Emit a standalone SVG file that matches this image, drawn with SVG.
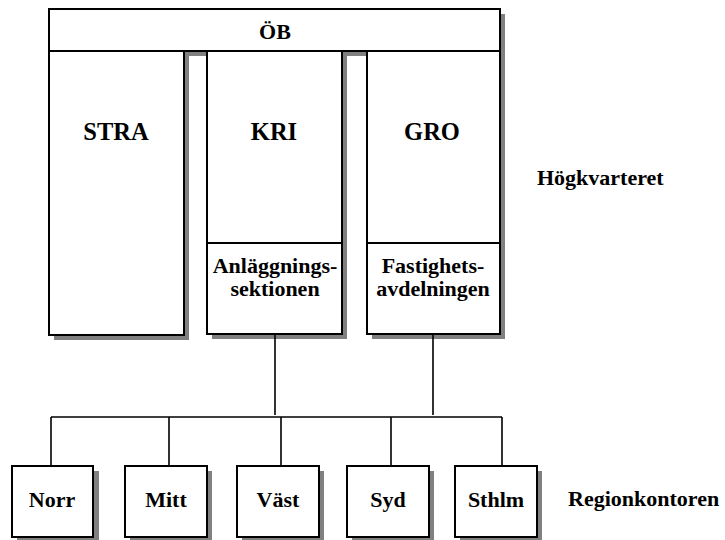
<svg xmlns="http://www.w3.org/2000/svg" width="725" height="540" viewBox="0 0 725 540">
<style>
.sh{fill:#808080;stroke:none}
.bx{fill:#fff;stroke:#000;stroke-width:2}
.ln{fill:none;stroke:#000;stroke-width:1.6}
text{font-family:"Liberation Serif","Times New Roman",serif;font-weight:bold;font-size:22px;fill:#000}
.c{text-anchor:middle}
.big{font-size:24.5px}
</style>
<rect width="725" height="540" fill="#fff"/>
<g id="shadows">
<rect class="sh" x="54" y="14" width="451" height="42"/>
<rect class="sh" x="54" y="56" width="135" height="284"/>
<rect class="sh" x="212" y="56" width="135" height="283"/>
<rect class="sh" x="372" y="56" width="133" height="283"/>
<rect class="sh" x="17" y="471" width="82" height="72"/>
<rect class="sh" x="130" y="471" width="82" height="72"/>
<rect class="sh" x="242" y="471" width="82" height="72"/>
<rect class="sh" x="352" y="471" width="82" height="72"/>
<rect class="sh" x="460" y="471" width="82" height="72"/>
</g>
<g id="connectors">
<path class="ln" d="M275,334 V415 M433,334 V415 M51,417 H502 M51,417 V466 M169,417 V466 M281,417 V466 M391,417 V466 M502,417 V466"/>
</g>
<g id="OB">
<rect class="bx" x="49" y="9" width="451" height="42"/>
<text class="c" x="275" y="39">ÖB</text>
</g>
<g id="STRA">
<rect class="bx" x="49" y="51" width="135" height="284"/>
<text class="c big" x="116" y="140">STRA</text>
</g>
<g id="KRI">
<rect class="bx" x="207" y="51" width="135" height="283"/>
<line x1="207" y1="243" x2="342" y2="243" stroke="#000" stroke-width="2"/>
<text class="c big" x="274" y="140">KRI</text>
<text class="c" x="275" y="273">Anläggnings-</text>
<text class="c" x="275" y="296">sektionen</text>
</g>
<g id="GRO">
<rect class="bx" x="367" y="51" width="133" height="283"/>
<line x1="367" y1="243" x2="500" y2="243" stroke="#000" stroke-width="2"/>
<text class="c big" x="432" y="140">GRO</text>
<text class="c" x="433" y="273">Fastighets-</text>
<text class="c" x="433" y="296">avdelningen</text>
</g>
<g id="Hogkvarteret">
<text x="537" y="185">Högkvarteret</text>
</g>
<g id="Norr">
<rect class="bx" x="12" y="466" width="81" height="71"/>
<text class="c" x="52" y="507">Norr</text>
</g>
<g id="Mitt">
<rect class="bx" x="125" y="466" width="82" height="71"/>
<text class="c" x="166" y="507">Mitt</text>
</g>
<g id="Vast">
<rect class="bx" x="237" y="466" width="82" height="71"/>
<text class="c" x="278" y="507">Väst</text>
</g>
<g id="Syd">
<rect class="bx" x="347" y="466" width="82" height="71"/>
<text class="c" x="388" y="507">Syd</text>
</g>
<g id="Sthlm">
<rect class="bx" x="455" y="466" width="82" height="71"/>
<text class="c" x="496" y="507">Sthlm</text>
</g>
<g id="Regionkontoren">
<text x="568" y="506">Regionkontoren</text>
</g>
</svg>
